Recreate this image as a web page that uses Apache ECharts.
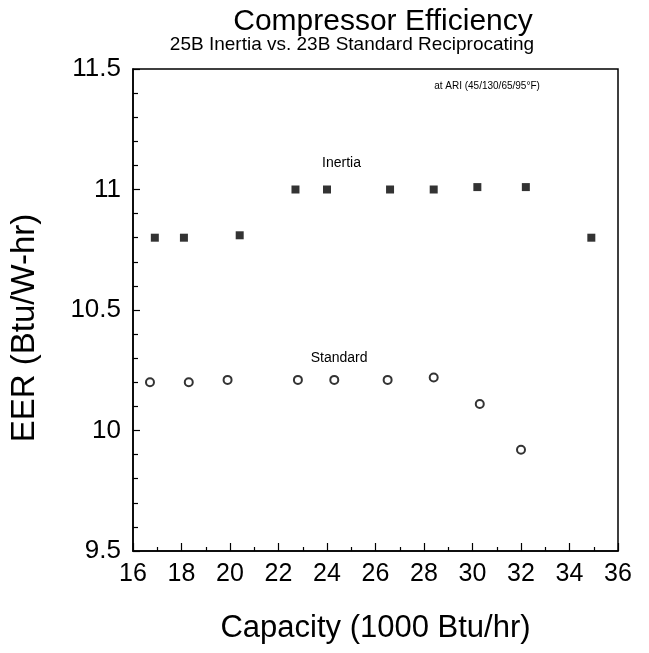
<!DOCTYPE html>
<html>
<head>
<meta charset="utf-8">
<script src="https://cdn.jsdelivr.net/npm/echarts@6/dist/echarts.min.js"></script>
<style>
  html, body { margin: 0; padding: 0; background: #fff; }
  #chart { width: 649px; height: 653px; }
</style>
</head>
<body>
<div id="chart"></div>
<script>
// 数据：从扫描图上读取（已按图纸倾斜校正）
const inertiaX = [16.9, 18.1, 20.4, 22.7, 24.0, 26.6, 28.4, 30.2, 32.2, 34.9]
const inertiaY = [10.80, 10.80, 10.81, 11.00, 11.00, 11.00, 11.00, 11.01, 11.01, 10.80]
const standardX = [16.7, 18.3, 19.9, 22.8, 24.3, 26.5, 28.4, 30.3, 32.0]
const standardY = [10.20, 10.20, 10.21, 10.21, 10.21, 10.21, 10.22, 10.11, 9.92]

// 系列标注文字位置（数据坐标）
const inertiaLabelAt = [24.6, 11.11]
const standardLabelAt = [24.5, 10.30]

const font = '"Liberation Sans", Arial, Helvetica, sans-serif'

const chart = echarts.init(document.getElementById('chart'), null, { renderer: 'canvas' })

const option = {
  backgroundColor: '#fff',
  animation: false,
  textStyle: { fontFamily: font, color: '#000' },
  title: [
    {
      text: 'Compressor Efficiency',
      left: 378,
      top: 2,
      textAlign: 'center',
      textStyle: { fontFamily: font, fontSize: 30, fontWeight: 'normal', color: '#000' }
    },
    {
      text: '25B Inertia vs. 23B Standard Reciprocating',
      left: 347,
      top: 30,
      textAlign: 'center',
      textStyle: { fontFamily: font, fontSize: 19, fontWeight: 'normal', color: '#000' }
    },
    {
      text: 'at ARI (45/130/65/95°F)',
      left: 482,
      top: 76,
      textAlign: 'center',
      textStyle: { fontFamily: font, fontSize: 10, fontWeight: 'normal', color: '#000' }
    }
  ],
  grid: {
    left: 133,
    right: 31,
    top: 69,
    bottom: 102,
    show: true,
    borderColor: '#000',
    borderWidth: 1.5,
    containLabel: false
  },
  xAxis: {
    type: 'value',
    min: 16,
    max: 36,
    interval: 2,
    name: 'Capacity (1000 Btu/hr)',
    nameLocation: 'middle',
    nameGap: 62,
    nameTextStyle: { fontFamily: font, fontSize: 31, color: '#000' },
    axisLine: { show: true, lineStyle: { color: '#000', width: 1.5 } },
    axisTick: { show: true, inside: true, length: 8, lineStyle: { color: '#000', width: 1.2 } },
    minorTick: { show: true, splitNumber: 2, length: 4, lineStyle: { color: '#000', width: 1.2 } },
    axisLabel: { fontFamily: font, fontSize: 25, color: '#000', margin: 11 },
    splitLine: { show: false }
  },
  yAxis: {
    type: 'value',
    min: 9.5,
    max: 11.5,
    interval: 0.5,
    name: 'EER (Btu/W-hr)',
    nameLocation: 'middle',
    nameGap: 92,
    nameRotate: 90,
    nameTextStyle: { fontFamily: font, fontSize: 33, color: '#000', padding: [0, 36, 0, 0] },
    axisLine: { show: true, lineStyle: { color: '#000', width: 1.5 } },
    axisTick: { show: true, inside: true, length: 7, lineStyle: { color: '#000', width: 1.2 } },
    minorTick: { show: true, splitNumber: 5, length: 5, lineStyle: { color: '#000', width: 1.2 } },
    axisLabel: { fontFamily: font, fontSize: 26, color: '#000', margin: 12 },
    splitLine: { show: false }
  },
  series: [
    {
      name: 'Inertia',
      type: 'scatter',
      symbol: 'rect',
      symbolSize: 8,
      itemStyle: { color: '#000' },
      data: inertiaX.map((x, i) => [x, inertiaY[i]]),
      markPoint: {
        symbol: 'rect',
        symbolSize: 0,
        label: { show: true, formatter: 'Inertia', color: '#000', fontFamily: font, fontSize: 14 },
        data: [{ coord: inertiaLabelAt }]
      }
    },
    {
      name: 'Standard',
      type: 'scatter',
      symbol: 'circle',
      symbolSize: 8,
      itemStyle: { color: '#fff', borderColor: '#000', borderWidth: 2 },
      data: standardX.map((x, i) => [x, standardY[i]]),
      markPoint: {
        symbol: 'rect',
        symbolSize: 0,
        label: { show: true, formatter: 'Standard', color: '#000', fontFamily: font, fontSize: 14 },
        data: [{ coord: standardLabelAt }]
      }
    }
  ]
}

chart.setOption(option)
</script>
</body>
</html>
